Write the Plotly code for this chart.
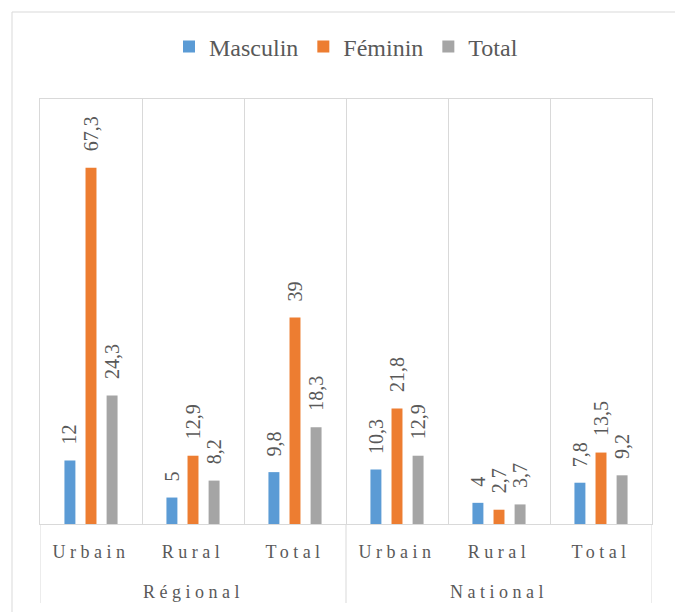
import plotly.graph_objects as go

groups = ["Régional", "National"]
outer = ["Régional", "Régional", "Régional", "National", "National", "National"]
inner = ["Urbain", "Rural", "Total", "Urbain", "Rural", "Total"]
masculin = [12, 5, 9.8, 10.3, 4, 7.8]
feminin = [67.3, 12.9, 39, 21.8, 2.7, 13.5]
total = [24.3, 8.2, 18.3, 12.9, 3.7, 9.2]

series = [("Masculin", masculin, "#5B9BD5"),
          ("Féminin", feminin, "#ED7D31"),
          ("Total", total, "#A5A5A5")]

FONT = "Liberation Serif"
TXT = "#595959"
GRID = "#D9D9D9"

W, H = 675, 612
ML, MR, MT, MB = 40, 23, 99, 88
PH = H - MT - MB
BARGAP = 0.38

xidx = list(range(len(inner)))

fig = go.Figure()
for name, vals, col in series:
    fig.add_trace(go.Bar(name=name, x=xidx, y=vals, marker_color=col,
                         marker_line_width=0, hoverinfo="skip"))

def fmt(v):
    return f"{v:g}".replace(".", ",")

# outer group labels (annotations 0..n-1) and dividers
bounds = []
for g in groups:
    idx = [i for i, o in enumerate(outer) if o == g]
    lo, hi = min(idx) - 0.5, max(idx) + 0.5
    bounds += [lo, hi]
    fig.add_annotation(x=(lo + hi) / 2, xref="x", y=-(592 - (H - MB)) / PH,
                       yref="paper", text=g, showarrow=False, yanchor="middle",
                       font=dict(family=FONT, size=18, color=TXT))
for b in sorted(set(bounds)):
    fig.add_shape(type="line", xref="x", yref="paper", x0=b, x1=b,
                  y0=0, y1=-(603 - (H - MB)) / PH, line=dict(color=GRID, width=1))

plot_w = W - ML - MR
cat_w = plot_w / len(inner)
slot = cat_w * (1 - BARGAP) / len(series)
for si, (name, vals, col) in enumerate(series):
    off = (si - 1) * slot
    for ci, v in enumerate(vals):
        fig.add_annotation(x=ci, y=v, xref="x", yref="y", text=fmt(v), showarrow=False,
                           textangle=-90, yanchor="bottom", xanchor="center",
                           xshift=off, yshift=14,
                           font=dict(family=FONT, size=20, color=TXT))

fig.add_shape(type="rect", xref="paper", yref="paper",
              x0=(12 - ML) / plot_w, x1=(W + 5 - ML) / plot_w,
              y0=-(MB + 10) / PH, y1=(H - MB - 12) / PH,
              line=dict(color=GRID, width=1), fillcolor="rgba(0,0,0,0)", layer="below")

fig.update_layout(
    width=W, height=H,
    margin=dict(l=ML, r=MR, t=MT, b=MB),
    paper_bgcolor="white", plot_bgcolor="white",
    barmode="group", bargap=BARGAP, bargroupgap=0.48,
    font=dict(family=FONT, color=TXT),
    showlegend=True,
    legend=dict(orientation="h", x=0.5, xanchor="center", y=(H - MB - 47) / PH,
                yanchor="middle", font=dict(family=FONT, size=24, color=TXT),
                itemwidth=30, traceorder="normal"),
    xaxis=dict(range=[-0.5, len(inner) - 0.5], tickmode="array", tickvals=xidx, ticktext=inner,
               showgrid=False, zeroline=False, showline=True, linecolor=GRID, mirror=True,
               ticks="", ticklabelstandoff=11,
               minor=dict(tickmode="array", tickvals=[i - 0.5 for i in range(len(inner) + 1)],
                          showgrid=True, gridcolor=GRID, gridwidth=1, ticks=""),
               tickfont=dict(family=FONT, size=18, color=TXT)),
    yaxis=dict(range=[0, 80.3], showgrid=False, showticklabels=False, zeroline=False,
               showline=True, linecolor=GRID, mirror=True, ticks=""),
)

n_groups = len(groups)
sel = ",".join(f'.annotation[data-index="{i}"] text' for i in range(n_groups))
post = """
var s=document.createElement('style');
s.textContent='html,body{margin:0;padding:0;overflow:hidden;} .xtick text{letter-spacing:4.5px;} %s{letter-spacing:4.5px;}';
document.head.appendChild(s);
""" % sel
fig.write_html("out.html", post_script=post,
               config={"responsive": False, "displayModeBar": False})
